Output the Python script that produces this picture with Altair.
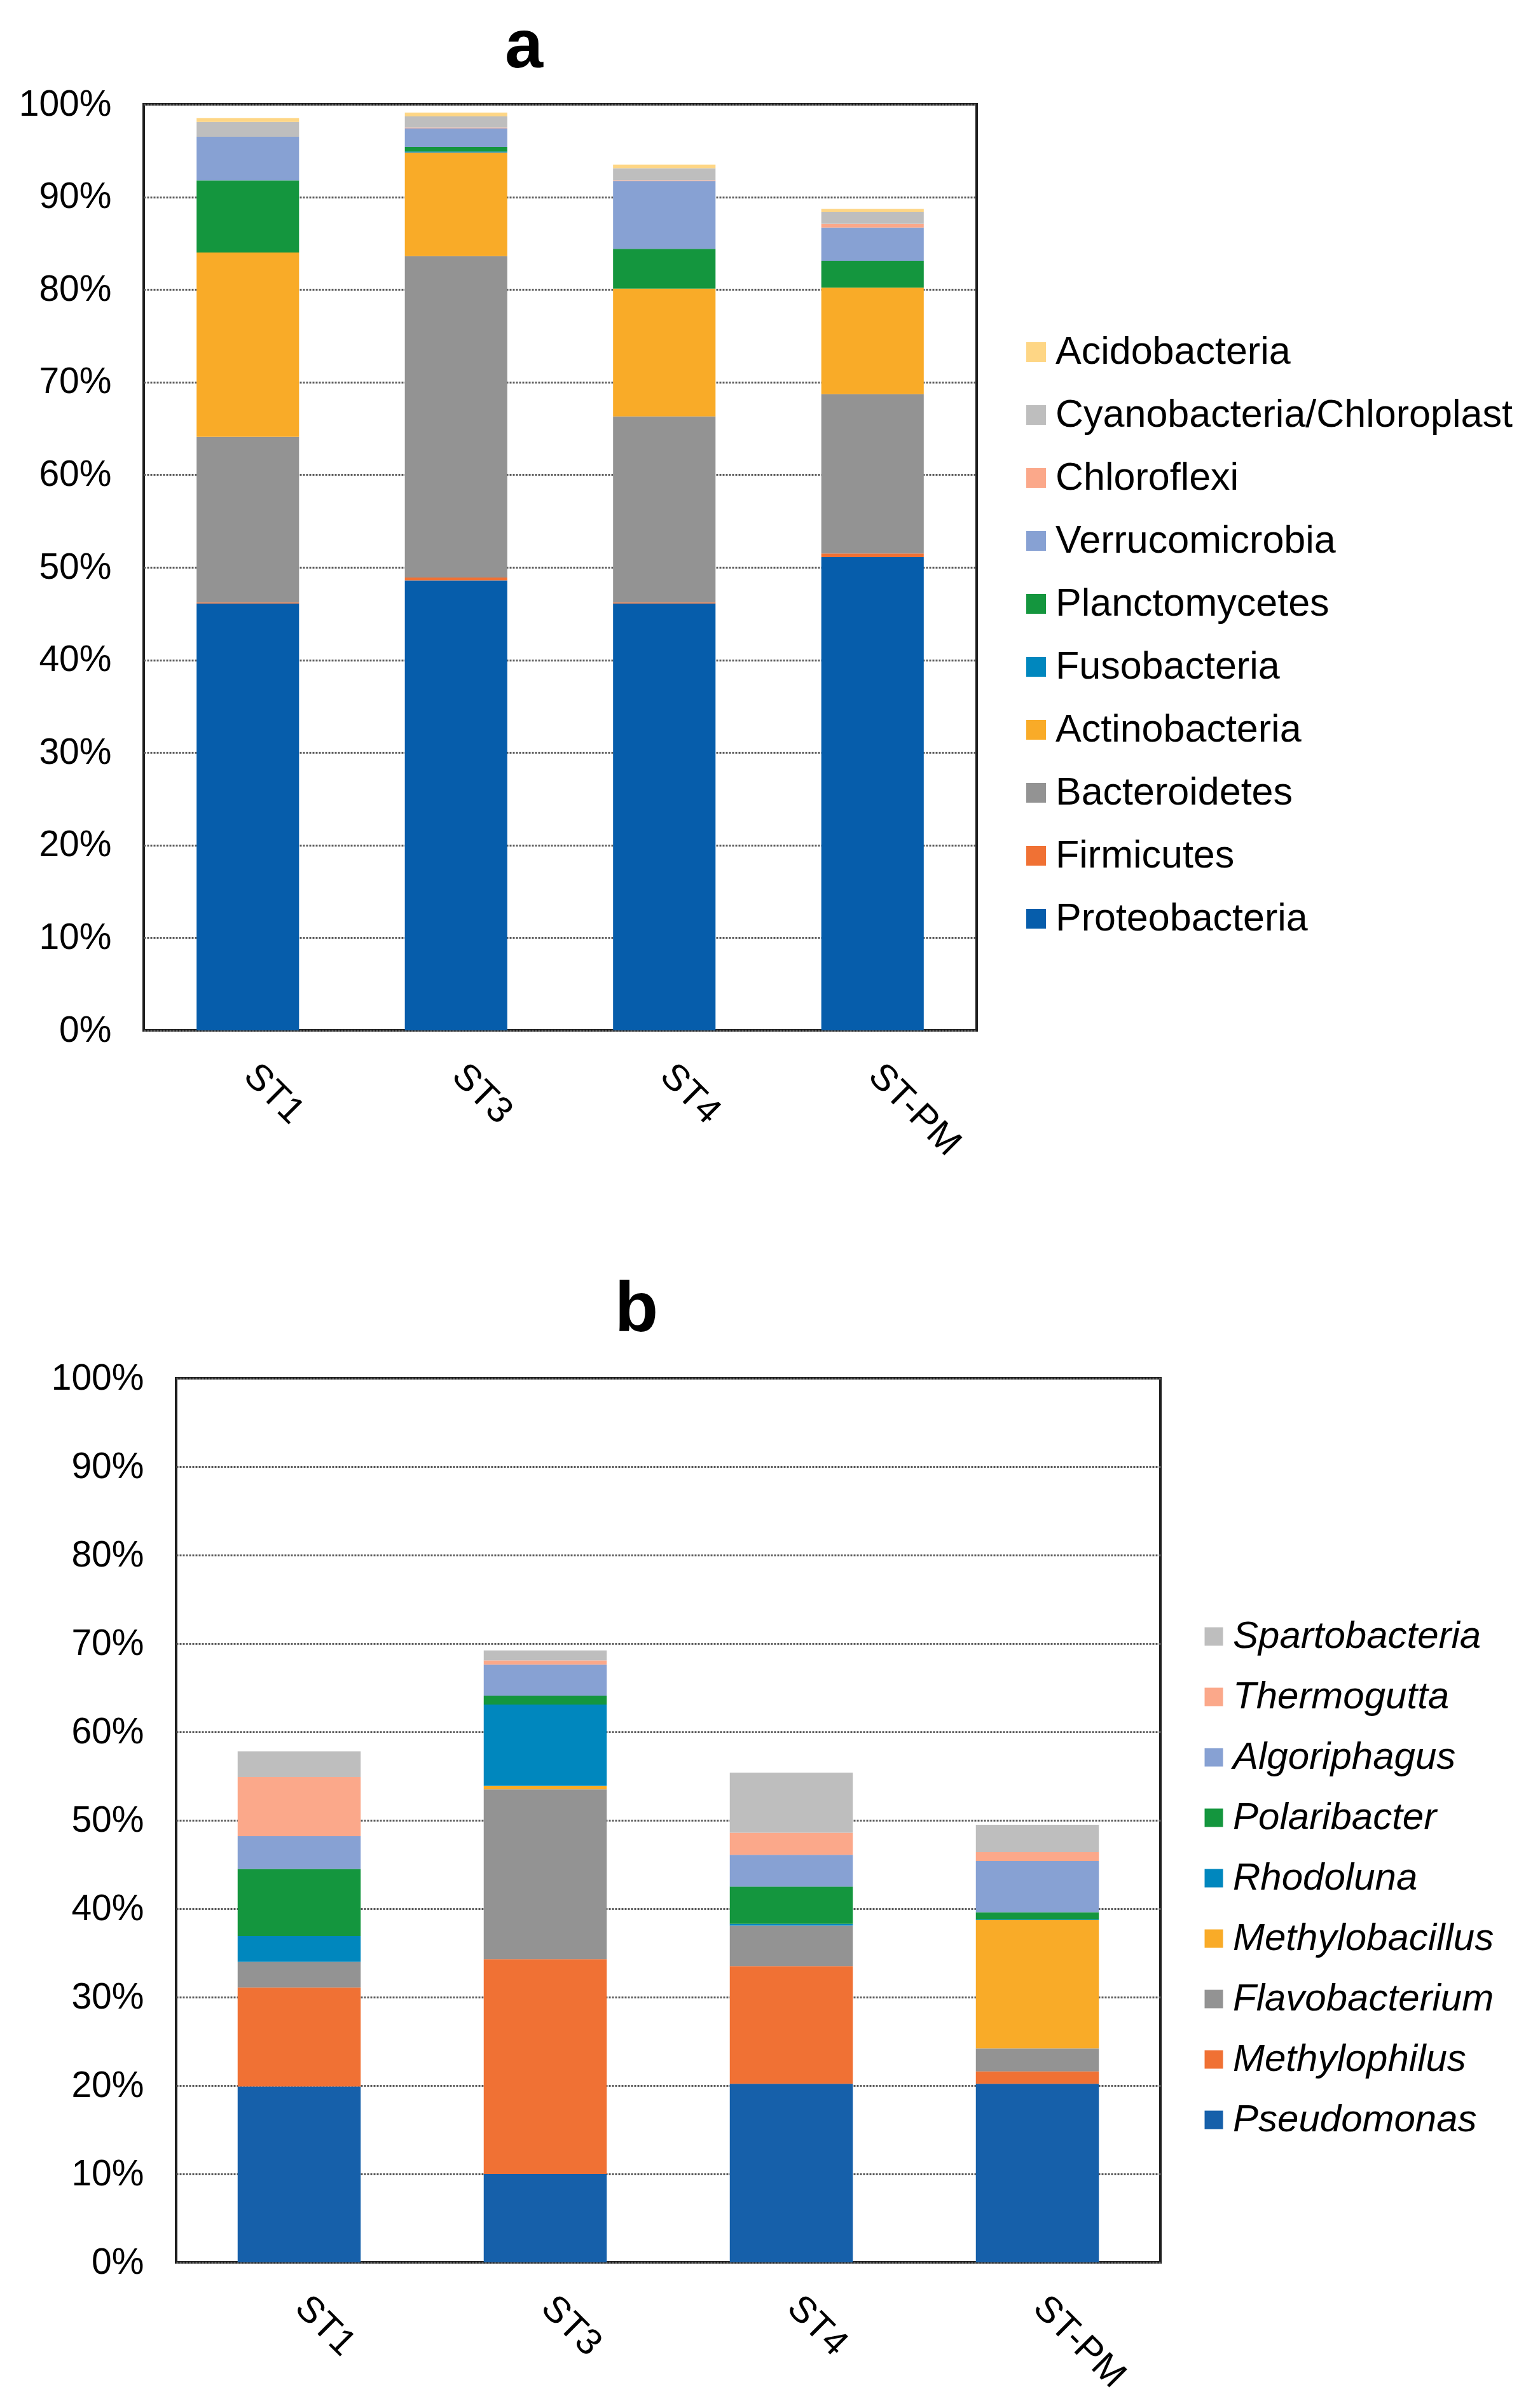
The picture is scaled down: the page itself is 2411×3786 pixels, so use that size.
import altair as alt
import pandas as pd

FONT = "Liberation Sans"

samples = ["ST1", "ST3", "ST4", "ST-PM"]

# ---- Panel a: phylum level (stack order bottom -> top) ----
phyla = ["Proteobacteria", "Firmicutes", "Bacteroidetes", "Actinobacteria",
         "Fusobacteria", "Planctomycetes", "Verrucomicrobia", "Chloroflexi",
         "Cyanobacteria/Chloroplast", "Acidobacteria"]
phyla_colors = ["#065DAB", "#F07134", "#939393", "#F9AB28", "#0087BE",
                "#14963E", "#87A1D3", "#FBA88A", "#BEBEBE", "#FED685"]
proteobacteria = [46.1, 48.6, 46.1, 51.1]
firmicutes = [0.1, 0.3, 0.1, 0.4]
bacteroidetes = [17.9, 34.7, 20.1, 17.2]
actinobacteria = [19.9, 11.2, 13.8, 11.5]
fusobacteria = [0.0, 0.1, 0.0, 0.0]
planctomycetes = [7.8, 0.5, 4.3, 2.9]
verrucomicrobia = [4.7, 2.0, 7.3, 3.6]
chloroflexi = [0.0, 0.1, 0.1, 0.4]
cyanobacteria = [1.6, 1.2, 1.3, 1.3]
acidobacteria = [0.4, 0.4, 0.4, 0.3]
phyla_values = [proteobacteria, firmicutes, bacteroidetes, actinobacteria,
                fusobacteria, planctomycetes, verrucomicrobia, chloroflexi,
                cyanobacteria, acidobacteria]

# ---- Panel b: genus level (stack order bottom -> top) ----
genera = ["Pseudomonas", "Methylophilus", "Flavobacterium", "Methylobacillus",
          "Rhodoluna", "Polaribacter", "Algoriphagus", "Thermogutta",
          "Spartobacteria"]
genera_colors = ["#1660AA", "#F07134", "#939393", "#F9AB28", "#0087BE",
                 "#14963E", "#87A1D3", "#FBA88A", "#BEBEBE"]
pseudomonas = [19.9, 10.0, 20.2, 20.2]
methylophilus = [11.2, 24.3, 13.3, 1.4]
flavobacterium = [2.9, 19.2, 4.6, 2.6]
methylobacillus = [0.0, 0.4, 0.0, 14.5]
rhodoluna = [2.9, 9.2, 0.2, 0.1]
polaribacter = [7.6, 1.0, 4.2, 0.8]
algoriphagus = [3.7, 3.5, 3.6, 5.8]
thermogutta = [6.7, 0.5, 2.5, 1.0]
spartobacteria = [2.9, 1.1, 6.8, 3.1]
genera_values = [pseudomonas, methylophilus, flavobacterium, methylobacillus,
                 rhodoluna, polaribacter, algoriphagus, thermogutta,
                 spartobacteria]

y_ticks = list(range(0, 101, 10))


def long_table(names, series):
    rows = []
    for rank, (name, vals) in enumerate(zip(names, series)):
        for s, v in zip(samples, vals):
            rows.append({"sample": s, "taxon": name, "value": v, "rank": rank})
    return pd.DataFrame(rows)


df_a = long_table(phyla, phyla_values)
df_b = long_table(genera, genera_values)


def panel(df, names, colors, title, title_dx, title_size, title_offset,
          width, height, p_inner, p_outer, leg_x, leg_y, leg_font, leg_style,
          leg_row_pad, sym_size):
    return alt.Chart(
        df,
        title=alt.TitleParams(title, fontSize=title_size, font=FONT,
                              fontWeight="bold", anchor="middle", dx=title_dx,
                              offset=title_offset, color="black"),
    ).mark_bar().encode(
        x=alt.X("sample:N", sort=samples, title=None,
                scale=alt.Scale(paddingInner=p_inner, paddingOuter=p_outer),
                axis=alt.Axis(labelAngle=45, labelAlign="left",
                              labelBaseline="middle", labelPadding=62,
                              labelOffset=3, labelFontSize=58, labelFont=FONT,
                              labelColor="black", domain=False, ticks=False,
                              tickSize=0, grid=False)),
        y=alt.Y("value:Q", stack="zero", title=None,
                scale=alt.Scale(domain=[0, 100], nice=False),
                axis=alt.Axis(values=y_ticks, labelExpr="datum.value + '%'",
                              labelFontSize=57, labelFont=FONT,
                              labelPadding=51, labelColor="black",
                              domain=False, ticks=False, tickSize=0,
                              grid=True, gridDash=[3, 2], gridColor="#5a5a5a",
                              gridWidth=3)),
        color=alt.Color("taxon:N",
                        scale=alt.Scale(domain=names[::-1], range=colors[::-1]),
                        legend=alt.Legend(title=None, orient="none",
                                          legendX=leg_x, legendY=leg_y,
                                          symbolType="square",
                                          symbolSize=sym_size,
                                          symbolStrokeWidth=0,
                                          labelFontSize=leg_font,
                                          labelFont=FONT,
                                          labelFontStyle=leg_style,
                                          labelColor="black",
                                          rowPadding=leg_row_pad,
                                          labelOffset=0, padding=0,
                                          labelLimit=2000)),
        order=alt.Order("rank:Q", sort="ascending"),
    ).properties(width=width, height=height)


# legend positions are relative to the row origin (the spacer's left edge)
chart_a = panel(df_a, phyla, phyla_colors, "a", -57, 108, 6, 1310, 1456,
                0.508, 0.254, 1573, 359, 61, "normal", 37, 960)
chart_b = panel(df_b, genera, genera_colors, "b", -50, 112, 21, 1548, 1390,
                0.5, 0.25, 1853, 376, 60, "italic", 35, 840)


def spacer():
    # invisible 1px-wide element that anchors each row's left edge
    return alt.Chart(pd.DataFrame({"z": [0]})).mark_rule(
        opacity=0, strokeWidth=0
    ).encode(
        x=alt.value(0), x2=alt.value(1), y=alt.value(0)
    ).properties(width=1, height=10, view=alt.ViewBackground(strokeWidth=0))


row_a = alt.hconcat(spacer(), chart_a, spacing=0)
row_b = alt.hconcat(spacer(), chart_b, spacing=51)

chart = alt.vconcat(
    row_a, row_b, spacing=171
).resolve_scale(
    color="independent", x="independent", y="independent"
).properties(
    padding={"left": 18, "top": 10, "right": 0, "bottom": 0},
    background="white",
).configure_view(
    stroke="#1e1e1e", strokeWidth=4
)

chart.save("out.html", embed_options={"renderer": "svg", "actions": False})
